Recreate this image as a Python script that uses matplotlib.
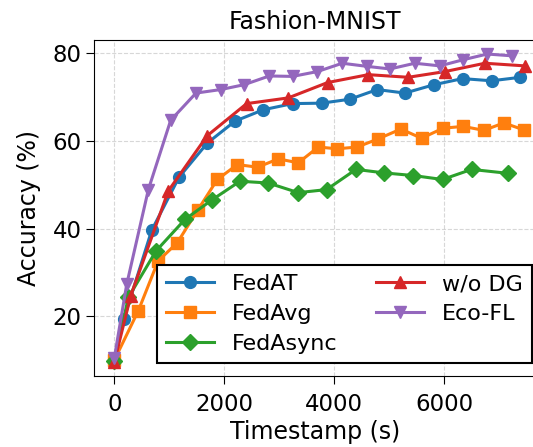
"""
Fashion-MNIST: accuracy vs timestamp
"""
import matplotlib
matplotlib.use('Agg')
import matplotlib.pyplot as plt

# FedAT
fedat_t = [0, 176, 679, 1176, 1691, 2195, 2710, 3243, 3770, 4285, 4782, 5285, 5813, 6334, 6861, 7388]
fedat_acc = [10.0, 19.5, 39.6, 51.7, 59.5, 64.5, 67.1, 68.5, 68.6, 69.5, 71.7, 70.9, 72.8, 74.2, 73.7, 74.5]

# FedAvg
fedavg_t = [0, 437, 795, 1146, 1516, 1873, 2237, 2607, 2982, 3346, 3710, 4055, 4419, 4788, 5213,
            5588, 5982, 6346, 6722, 7085, 7449]
fedavg_acc = [10.0, 21.3, 32.6, 36.8, 44.2, 51.2, 54.6, 54.0, 55.9, 55.0, 58.6, 58.2, 58.6, 60.4, 62.7,
              60.6, 62.9, 63.3, 62.4, 64.1, 62.5]

# FedAsync
fedasync_t = [0, 255, 758, 1285, 1770, 2285, 2800, 3346, 3861, 4395, 4910, 5437, 5970, 6498, 7164]
fedasync_acc = [9.9, 24.3, 34.9, 42.1, 46.5, 50.8, 50.4, 48.2, 48.9, 53.5, 52.7, 52.1, 51.2, 53.5, 52.6]

# w/o DG
wodg_t = [0, 298, 982, 1691, 2407, 3164, 3879, 4619, 5346, 6013, 6740, 7467]
wodg_acc = [9.6, 24.7, 48.6, 61.2, 68.5, 69.8, 73.3, 75.1, 74.5, 75.8, 77.7, 77.1]

# Eco-FL
ecofl_t = [0, 225, 619, 1025, 1485, 1934, 2358, 2819, 3243, 3692, 4146, 4588, 5013, 5467, 5922,
           6346, 6782, 7225]
ecofl_acc = [10.5, 27.3, 48.9, 64.7, 70.9, 71.7, 72.8, 74.8, 74.7, 75.8, 77.7, 77.0, 76.4, 77.7, 77.1,
             78.5, 79.8, 79.4]

series = [
    (fedat_t, fedat_acc, 'FedAT', 'o', '#1f77b4'),
    (fedavg_t, fedavg_acc, 'FedAvg', 's', '#ff7f0e'),
    (fedasync_t, fedasync_acc, 'FedAsync', 'D', '#2ca02c'),
    (wodg_t, wodg_acc, 'w/o DG', '^', '#d62728'),
    (ecofl_t, ecofl_acc, 'Eco-FL', 'v', '#9467bd'),
]

fig = plt.figure(figsize=(5.33, 4.47), dpi=100)
# eje derecho queda fuera de la imagen, como en el original
ax = fig.add_axes([94 / 533, 71 / 447, 442 / 533, 336 / 447])

for t, acc, label, marker, color in series:
    ax.plot(t, acc, marker=marker, markersize=8.5, linewidth=2.2,
            label=label, color=color)

ax.set_xlim(-370, 7670)
ax.set_ylim(6.4, 83.0)
ax.set_xticks([0, 2000, 4000, 6000])
ax.set_yticks([20, 40, 60, 80])
ax.tick_params(labelsize=16.5, length=6)
ax.tick_params(axis='x', pad=6)
ax.tick_params(axis='y', pad=3)

ax.set_xlabel('Timestamp (s)', fontsize=17, labelpad=3)
ax.set_ylabel('Accuracy (%)', fontsize=17, labelpad=8)
ax.set_title('Fashion-MNIST', fontsize=17, pad=8)

ax.grid(True, linestyle='--', alpha=0.5)

leg = ax.legend(loc='lower right', bbox_to_anchor=(0.991, 0.039), ncol=2,
                fontsize=16, fancybox=False, edgecolor='black', framealpha=1,
                borderaxespad=0, columnspacing=1.7, handlelength=2.2,
                labelspacing=0.45)
leg.get_frame().set_linewidth(1.5)

fig.savefig('out.png', dpi=100)
plt.close(fig)
